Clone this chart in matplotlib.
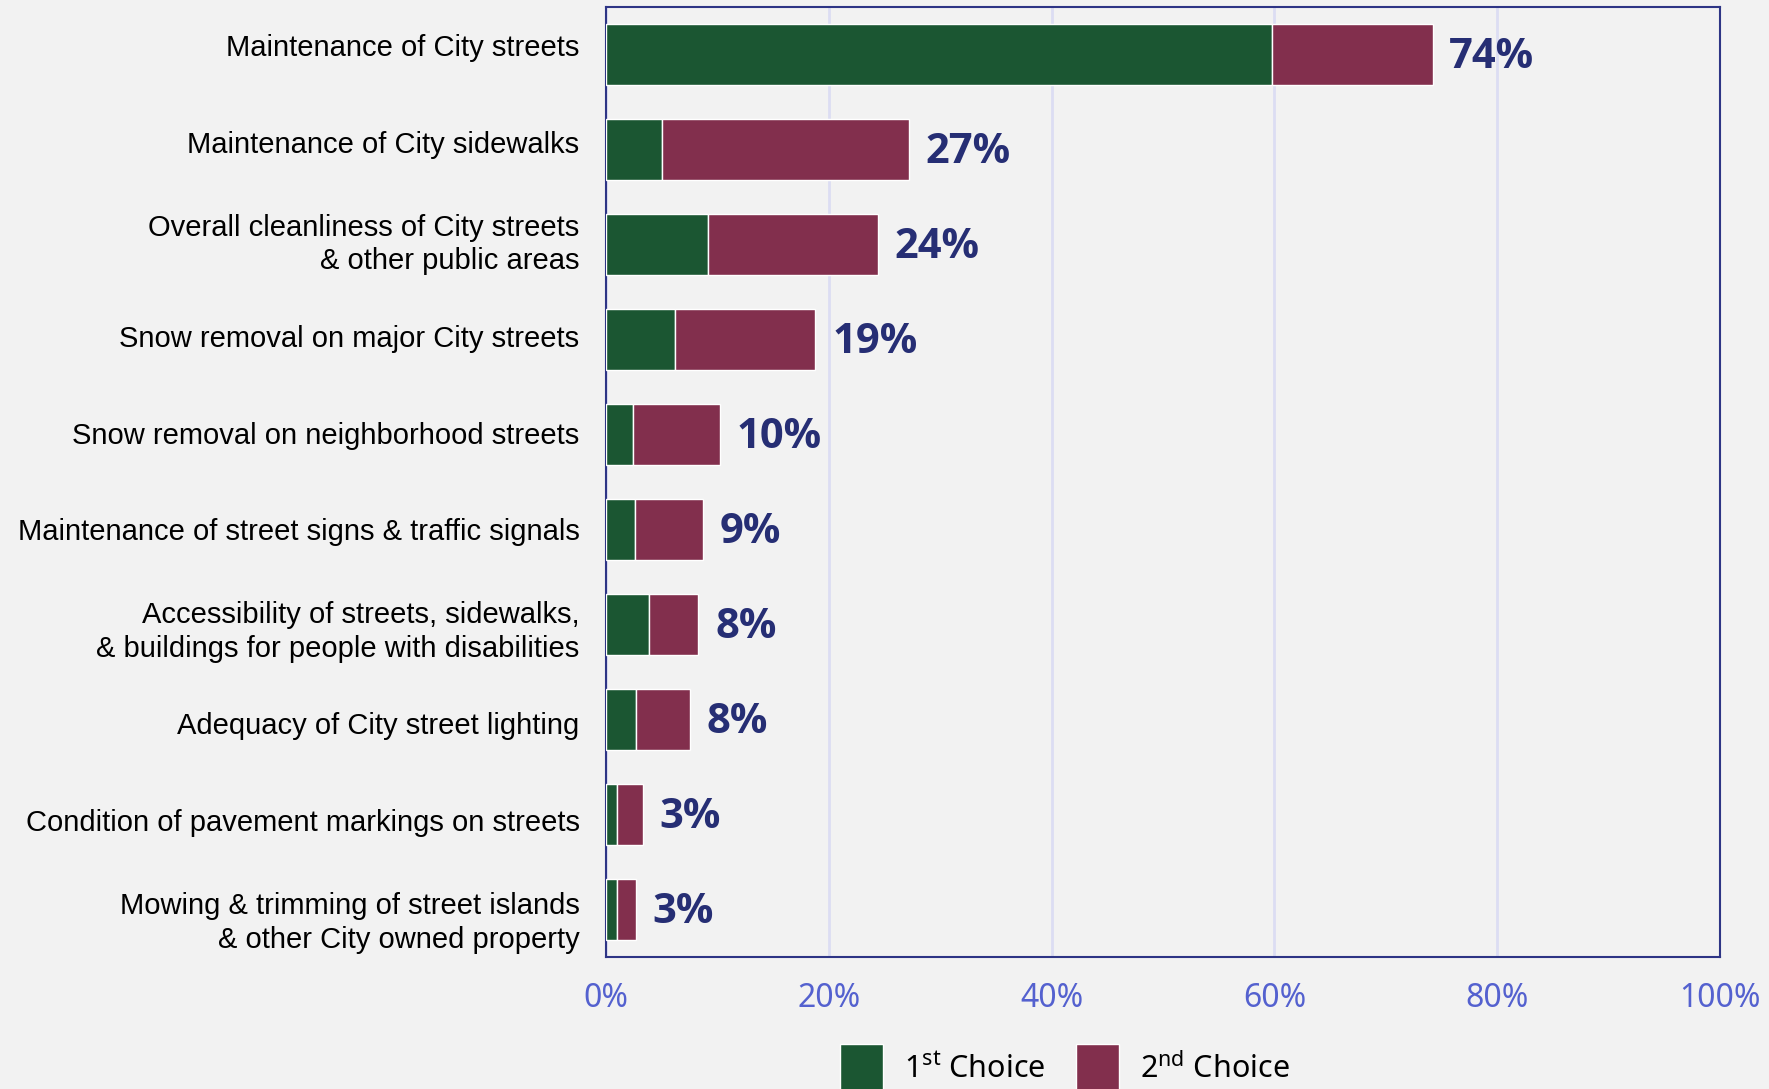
import matplotlib
matplotlib.use("Agg")
import matplotlib.pyplot as plt
from matplotlib.patches import Patch
import numpy as np

# データ
categories = [
    "Maintenance of City streets",
    "Maintenance of City sidewalks",
    "Overall cleanliness of City streets\n& other public areas",
    "Snow removal on major City streets",
    "Snow removal on neighborhood streets",
    "Maintenance of street signs & traffic signals",
    "Accessibility of streets, sidewalks,\n& buildings for people with disabilities",
    "Adequacy of City street lighting",
    "Condition of pavement markings on streets",
    "Mowing & trimming of street islands\n& other City owned property",
]
first_choice = [59.8, 5.0, 9.2, 6.2, 2.4, 2.6, 3.9, 2.7, 1.0, 1.0]
second_choice = [14.4, 22.2, 15.2, 12.6, 7.8, 6.1, 4.4, 4.8, 2.3, 1.7]
total_labels = ["74%", "27%", "24%", "19%", "10%", "9%", "8%", "8%", "3%", "3%"]
x_ticks = [0, 20, 40, 60, 80, 100]
x_tick_labels = ["0%", "20%", "40%", "60%", "80%", "100%"]

# 色
bg = "#F2F2F2"
green = "#1B5632"
maroon = "#822F4D"
navy = "#262E74"
tick_blue = "#5461CF"

plt.rcParams["mathtext.fontset"] = "custom"
plt.rcParams["mathtext.rm"] = "Noto Sans"

fig = plt.figure(figsize=(17.69, 10.89), dpi=100, facecolor=bg)
ax = fig.add_axes([606 / 1769, 1 - 957 / 1089, 1114 / 1769, 950 / 1089])
ax.set_facecolor(bg)

y = np.arange(len(categories))
first = np.array(first_choice)
second = np.array(second_choice)

ax.barh(y, first, height=0.64, color=green, edgecolor="white", linewidth=1, zorder=3)
ax.barh(y, second, left=first, height=0.64, color=maroon, edgecolor="white", linewidth=1, zorder=3)

# 合計ラベル
for yi, tot, lab in zip(y, first + second, total_labels):
    ax.annotate(lab, xy=(tot, yi), xytext=(12, -2), textcoords="offset points",
                ha="left", va="center", fontsize=30, fontweight="bold",
                color=navy, family=["Open Sans", "DejaVu Sans"])

ax.set_xlim(0, 100)
ax.set_ylim(len(categories) - 0.5, -0.5)
ax.set_xticks(x_ticks)
ax.set_xticklabels(x_tick_labels, fontsize=23, color=tick_blue, family="Noto Sans")
# 項目ラベルは棒より少し広い間隔で並んでいる
ax.set_yticks(y * 1.02 - 0.1)
ax.set_yticklabels(categories, fontsize=21, color="black", family="Liberation Sans",
                   linespacing=1.25)
ax.tick_params(axis="both", length=0)
ax.tick_params(axis="x", pad=18)
ax.tick_params(axis="y", pad=19)

ax.xaxis.grid(True, color="#DCDDF3", linewidth=2, zorder=0)
ax.set_axisbelow(True)
for s in ax.spines.values():
    s.set_color("#2E3585")
    s.set_linewidth(1.5)

# 凡例
handles = [Patch(facecolor=green, edgecolor="white"), Patch(facecolor=maroon, edgecolor="white")]
labels = [r"1$^{\mathrm{st}}$ Choice", r"2$^{\mathrm{nd}}$ Choice"]
fig.legend(handles, labels, loc="center", bbox_to_anchor=(0.602, 1 - 1068 / 1089),
           ncol=2, frameon=False, prop={"family": "Noto Sans", "size": 22},
           handlelength=1.4, handleheight=2.0, handletextpad=0.7,
           columnspacing=1.0, borderpad=0)

fig.savefig("out.png", dpi=100, facecolor=bg)
